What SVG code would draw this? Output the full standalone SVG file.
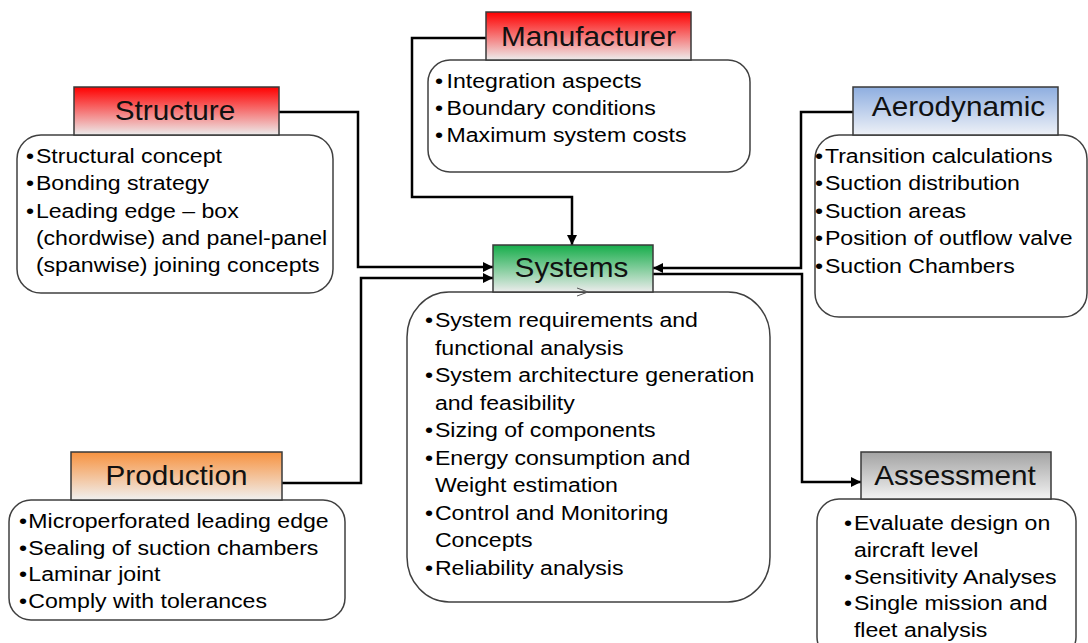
<svg xmlns="http://www.w3.org/2000/svg" width="1088" height="643" viewBox="0 0 1088 643">
<style>
.hdr{stroke:#3a3a3a;stroke-width:1.5}
.box{fill:#ffffff;stroke:#404040;stroke-width:1.5}
.title{font-family:"Liberation Sans",Arial,sans-serif;font-size:27px;fill:#111;text-anchor:middle}
.body{font-family:"Liberation Sans",Arial,sans-serif;font-size:21px;fill:#000}
.conn{fill:none;stroke:#000;stroke-width:2.5}
</style>
<defs>
<linearGradient id="gRed" x1="0" y1="0" x2="0" y2="1"><stop offset="0" stop-color="#ff0000"/><stop offset="1" stop-color="#ececec"/></linearGradient>
<linearGradient id="gGreen" x1="0" y1="0" x2="0" y2="1"><stop offset="0" stop-color="#16ad4a"/><stop offset="1" stop-color="#ececec"/></linearGradient>
<linearGradient id="gBlue" x1="0" y1="0" x2="0" y2="1"><stop offset="0" stop-color="#8eaee0"/><stop offset="1" stop-color="#eef1f7"/></linearGradient>
<linearGradient id="gOrange" x1="0" y1="0" x2="0" y2="1"><stop offset="0" stop-color="#f7923f"/><stop offset="1" stop-color="#f0f0f0"/></linearGradient>
<linearGradient id="gGray" x1="0" y1="0" x2="0" y2="1"><stop offset="0" stop-color="#a3a3a3"/><stop offset="1" stop-color="#f2f2f2"/></linearGradient>
<marker id="arr" markerUnits="userSpaceOnUse" markerWidth="10" markerHeight="10" refX="10" refY="5" orient="auto" viewBox="0 0 10 10"><path d="M0,0 L10,5 L0,10 z" fill="#000"/></marker>
</defs>

<g id="connectors">
<path class="conn" d="M486,38 H412 V197 H572 V245" marker-end="url(#arr)"/>
<path class="conn" d="M279,112 H358 V267 H493" marker-end="url(#arr)"/>
<path class="conn" d="M282,483 H361 V278 H493" marker-end="url(#arr)"/>
<path class="conn" d="M853,112 H801 V268 H653" marker-end="url(#arr)"/>
<path class="conn" d="M653,274 H802 V482 H861" marker-end="url(#arr)"/>
</g>

<g id="manufacturer">
<rect class="box" x="428" y="60" width="322" height="112" rx="22" ry="22"/>
<rect class="hdr" x="486" y="12" width="205" height="48" fill="url(#gRed)"/>
<text class="title" transform="translate(588.5,46) scale(1.1,1)" x="0" y="0">Manufacturer</text>
<text class="body" transform="translate(435,88) scale(1.1,1)">
<tspan x="0" y="0">•</tspan><tspan x="10.5" y="0">Integration aspects</tspan>
<tspan x="0" y="27.2">•</tspan><tspan x="10.5" y="27.2">Boundary conditions</tspan>
<tspan x="0" y="54.4">•</tspan><tspan x="10.5" y="54.4">Maximum system costs</tspan>
</text>
</g>

<g id="structure">
<rect class="box" x="17" y="135" width="316" height="158" rx="24" ry="24"/>
<rect class="hdr" x="74" y="87" width="205" height="48" fill="url(#gRed)"/>
<text class="title" transform="translate(175,120) scale(1.1,1)" x="0" y="0">Structure</text>
<text class="body" transform="translate(26,163) scale(1.1,1)">
<tspan x="0" y="0">•</tspan><tspan x="9" y="0">Structural concept</tspan>
<tspan x="0" y="27.3">•</tspan><tspan x="9" y="27.3">Bonding strategy</tspan>
<tspan x="0" y="54.6">•</tspan><tspan x="9" y="54.6">Leading edge – box</tspan>
<tspan x="9" y="81.9">(chordwise) and panel-panel</tspan>
<tspan x="9" y="109.2">(spanwise) joining concepts</tspan>
</text>
</g>

<g id="aerodynamic">
<rect class="box" x="815" y="135" width="272" height="182" rx="24" ry="24"/>
<rect class="hdr" x="853" y="87" width="205" height="48" fill="url(#gBlue)"/>
<text class="title" transform="translate(958.5,116) scale(1.1,1)" x="0" y="0">Aerodynamic</text>
<text class="body" transform="translate(815,163) scale(1.1,1)">
<tspan x="0" y="0">•</tspan><tspan x="9" y="0">Transition calculations</tspan>
<tspan x="0" y="27.5">•</tspan><tspan x="9" y="27.5">Suction distribution</tspan>
<tspan x="0" y="55">•</tspan><tspan x="9" y="55">Suction areas</tspan>
<tspan x="0" y="82.5">•</tspan><tspan x="9" y="82.5">Position of outflow valve</tspan>
<tspan x="0" y="110">•</tspan><tspan x="9" y="110">Suction Chambers</tspan>
</text>
</g>

<g id="systems">
<rect class="box" x="407" y="292" width="363" height="310" rx="42" ry="45"/>
<rect class="hdr" x="493" y="245" width="160" height="47" fill="url(#gGreen)"/>
<text class="title" transform="translate(571.5,277) scale(1.1,1)" x="0" y="0">Systems</text>
<polyline points="577,288 588,292 577,296" fill="none" stroke="#555" stroke-width="1"/>
<text class="body" transform="translate(425,327) scale(1.1,1)">
<tspan x="0" y="0">•</tspan><tspan x="9" y="0">System requirements and</tspan>
<tspan x="9" y="27.55">functional analysis</tspan>
<tspan x="0" y="55.1">•</tspan><tspan x="9" y="55.1">System architecture generation</tspan>
<tspan x="9" y="82.65">and feasibility</tspan>
<tspan x="0" y="110.2">•</tspan><tspan x="9" y="110.2">Sizing of components</tspan>
<tspan x="0" y="137.75">•</tspan><tspan x="9" y="137.75">Energy consumption and</tspan>
<tspan x="9" y="165.3">Weight estimation</tspan>
<tspan x="0" y="192.85">•</tspan><tspan x="9" y="192.85">Control and Monitoring</tspan>
<tspan x="9" y="220.4">Concepts</tspan>
<tspan x="0" y="247.95">•</tspan><tspan x="9" y="247.95">Reliability analysis</tspan>
</text>
</g>

<g id="production">
<rect class="box" x="9" y="500" width="336" height="120" rx="22" ry="22"/>
<rect class="hdr" x="71" y="452" width="211" height="48" fill="url(#gOrange)"/>
<text class="title" transform="translate(176.5,485) scale(1.1,1)" x="0" y="0">Production</text>
<text class="body" transform="translate(19,528) scale(1.1,1)">
<tspan x="0" y="0">•</tspan><tspan x="8.5" y="0">Microperforated leading edge</tspan>
<tspan x="0" y="26.7">•</tspan><tspan x="8.5" y="26.7">Sealing of suction chambers</tspan>
<tspan x="0" y="53.4">•</tspan><tspan x="8.5" y="53.4">Laminar joint</tspan>
<tspan x="0" y="80.1">•</tspan><tspan x="8.5" y="80.1">Comply with tolerances</tspan>
</text>
</g>

<g id="assessment">
<rect class="box" x="817" y="499" width="259" height="160" rx="22" ry="22"/>
<rect class="hdr" x="861" y="452" width="190" height="47" fill="url(#gGray)"/>
<text class="title" transform="translate(955,485) scale(1.1,1)" x="0" y="0">Assessment</text>
<text class="body" transform="translate(844,530) scale(1.1,1)">
<tspan x="0" y="0">•</tspan><tspan x="9" y="0">Evaluate design on</tspan>
<tspan x="9" y="26.8">aircraft level</tspan>
<tspan x="0" y="53.6">•</tspan><tspan x="9" y="53.6">Sensitivity Analyses</tspan>
<tspan x="0" y="80.4">•</tspan><tspan x="9" y="80.4">Single mission and</tspan>
<tspan x="9" y="107.2">fleet analysis</tspan>
</text>
</g>
</svg>
